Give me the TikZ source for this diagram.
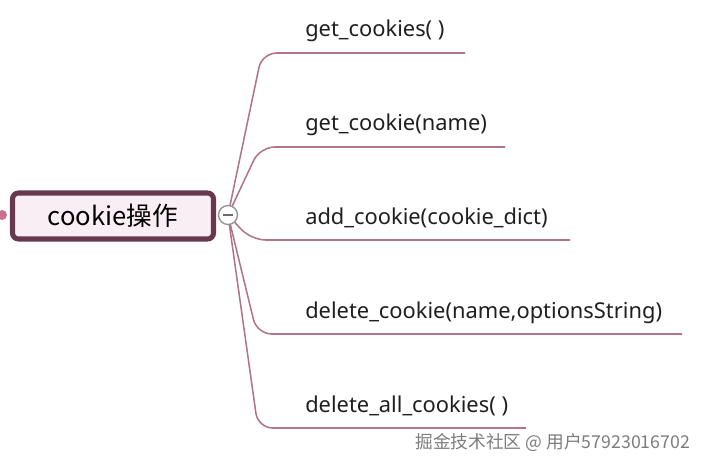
\documentclass[tikz,border=0pt]{standalone}
\usepackage{fontspec}
\setmainfont{Noto Sans}
\newfontfamily\cjk{Noto Sans CJK SC}
\definecolor{branch}{RGB}{178,116,140}
\definecolor{rootborder}{RGB}{104,56,78}
\definecolor{rootfill}{RGB}{249,238,243}
\definecolor{dotcol}{RGB}{204,112,145}
\definecolor{wmgray}{RGB}{125,125,125}
\tikzset{
  leaf/.style={anchor=base west, inner sep=0pt, font=\fontsize{16.4pt}{19pt}\selectfont, text=black!88},
  branchline/.style={draw=branch, line width=1.15pt, rounded corners=11pt},
  rootbox/.style={draw=rootborder, fill=rootfill, line width=3.8pt, rounded corners=4.5pt,
    minimum width=150.75pt, minimum height=34.5pt, inner sep=0pt, font=\cjk\fontsize{19.2pt}{23pt}\selectfont},
  collapse/.style={circle, draw=gray!85, fill=white, line width=1pt, minimum size=14.25pt, inner sep=0pt},
}
\begin{document}
\begin{tikzpicture}[x=0.75pt, y=-0.75pt]
\useasboundingbox[fill=white] (0,0) rectangle (704,467);
% hub
\coordinate (hub) at (228,215);
% corners and underline ends
\coordinate (p1) at (262,53);  \coordinate (e1) at (465,53);
\coordinate (p2) at (260,147); \coordinate (e2) at (505,147);
\coordinate (p3) at (251,240); \coordinate (e3) at (570,240);
\coordinate (p4) at (257,334); \coordinate (e4) at (682,334);
\coordinate (p5) at (258,428); \coordinate (e5) at (526,428);
% branches
\draw[branchline] (hub) -- (p1) -- (e1);
\draw[branchline] (hub) -- (p2) -- (e2);
\draw[branchline] (hub) -- (p3) -- (e3);
\draw[branchline] (hub) -- (p4) -- (e4);
\draw[branchline] (hub) -- (p5) -- (e5);
% leaves
\node[leaf] (l1) at (305,37) {get\_cookies( )};
\node[leaf] (l2) at (305,131) {get\_cookie(name)};
\node[leaf] (l3) at (305,224) {add\_cookie(cookie\_dict)};
\node[leaf] (l4) at (305,318) {delete\_cookie(name,optionsString)};
\node[leaf] (l5) at (305,412) {delete\_all\_cookies( )};
% root
\node[circle, fill=dotcol, minimum size=7.5pt, inner sep=0pt] (dot) at (2,215) {};
\node[rootbox] (root) at (113,216) {cookie操作};
\node[collapse] (col) at (hub) {};
\draw[gray!85!black, line width=1pt] ([xshift=-3.4pt]col.center) -- ([xshift=3.4pt]col.center);
% watermark
\node[anchor=west, inner sep=0pt, text=wmgray, font=\cjk\fontsize{13.3pt}{16pt}\selectfont] (wm) at (415,443) {掘金技术社区 @ 用户57923016702};
\end{tikzpicture}
\end{document}
